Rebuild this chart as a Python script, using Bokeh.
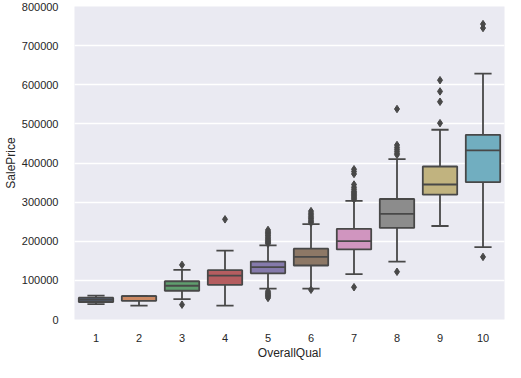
from bokeh.plotting import figure
from bokeh.models import Range1d, FixedTicker, BasicTickFormatter
from bokeh.embed import file_html
from bokeh.resources import INLINE

# Data (SalePrice by OverallQual)
quals = [1, 2, 3, 4, 5, 6, 7, 8, 9, 10]
q1 = [44725, 47655, 73500, 88500, 118000, 138000, 179000, 234000, 319000, 351000]
median = [50150, 60000, 86250, 112000, 133900, 160000, 200141, 269750, 345000, 432390]
q3 = [55575, 60000, 97750, 126175, 148000, 181000, 231800, 308000, 391000, 472000]
whisk_lo = [39300, 35311, 52000, 35311, 79000, 79000, 116000, 148000, 239000, 184750]
whisk_hi = [61000, 60000, 127000, 176000, 189500, 244000, 303000, 410000, 485000, 628500]
outliers = {
    3: [139600, 37900],
    4: [256000],
    5: [193500, 196000, 198500, 201000, 204000, 207000, 210000, 213500, 216000,
        219500, 222000, 225000, 228950, 55000, 58500, 61000, 63000, 66000, 68500, 72500],
    6: [247000, 250000, 253000, 257000, 260000, 264000, 268000, 272000, 277000, 76000],
    7: [307000, 310000, 313000, 316000, 319000, 322000, 325000, 328000, 333000,
        338000, 345000, 372000, 378000, 384000, 82500],
    8: [421000, 425000, 430000, 435000, 440000, 446000, 538000, 122000],
    9: [501837, 556581, 582933, 611657],
    10: [160000, 745000, 755000],
}
colors = ["#5875a4", "#cc8963", "#5f9e6e", "#b55d60", "#857aab",
          "#8d7866", "#d095bf", "#8c8c8c", "#c1b37f", "#71aec0"]
yticks = [0, 100000, 200000, 300000, 400000, 500000, 600000, 700000, 800000]

GRAY = "#484848"
LW = 1.8
FONT = "Liberation Sans"

p = figure(width=505, height=362, output_backend="svg", toolbar_location=None,
           x_range=Range1d(0.5, 10.5), y_range=Range1d(0, 800000),
           min_border_left=69, min_border_right=1, min_border_top=6, min_border_bottom=38)
p.background_fill_color = "#EAEAF2"
p.border_fill_color = "white"
p.outline_line_color = None

# grid
p.xgrid.grid_line_color = None
p.ygrid.grid_line_color = "white"
p.ygrid.grid_line_width = 1.3

# axes
for ax in (p.xaxis, p.yaxis):
    ax.axis_line_color = None
    ax.major_tick_line_color = None
    ax.minor_tick_line_color = None
    ax.major_label_text_font = FONT
    ax.major_label_text_font_size = "11px"
    ax.major_label_text_color = "#262626"
    ax.axis_label_text_font = FONT
    ax.axis_label_text_font_size = "12px"
    ax.axis_label_text_font_style = "normal"
    ax.axis_label_text_color = "#262626"

p.xaxis.ticker = FixedTicker(ticks=quals)
p.yaxis.ticker = FixedTicker(ticks=yticks)
p.yaxis.formatter = BasicTickFormatter(use_scientific=False)
p.xaxis.axis_label = "OverallQual"
p.yaxis.axis_label = "SalePrice"
p.xaxis.major_label_standoff = 8
p.xaxis.axis_label_standoff = 1
p.yaxis.major_label_standoff = 10
p.yaxis.axis_label_standoff = 1

# whiskers
p.segment(x0=quals, y0=q3, x1=quals, y1=whisk_hi, line_color=GRAY, line_width=LW)
p.segment(x0=quals, y0=q1, x1=quals, y1=whisk_lo, line_color=GRAY, line_width=LW)
# caps
cap_l = [q - 0.2 for q in quals]
cap_r = [q + 0.2 for q in quals]
p.segment(x0=cap_l, y0=whisk_hi, x1=cap_r, y1=whisk_hi, line_color=GRAY, line_width=LW)
p.segment(x0=cap_l, y0=whisk_lo, x1=cap_r, y1=whisk_lo, line_color=GRAY, line_width=LW)
# boxes
p.vbar(x=quals, bottom=q1, top=q3, width=0.8, fill_color=colors,
       line_color=GRAY, line_width=LW)
# medians
p.segment(x0=[q - 0.4 for q in quals], y0=median, x1=[q + 0.4 for q in quals], y1=median,
          line_color=GRAY, line_width=LW)
# outliers
ox, oy = [], []
for k, vals in outliers.items():
    for v in vals:
        ox.append(k)
        oy.append(v)
p.scatter(x=ox, y=oy, marker="diamond", size=7.5, fill_color=GRAY, line_color=GRAY)

open("out.html", "w").write(file_html(p, INLINE))
